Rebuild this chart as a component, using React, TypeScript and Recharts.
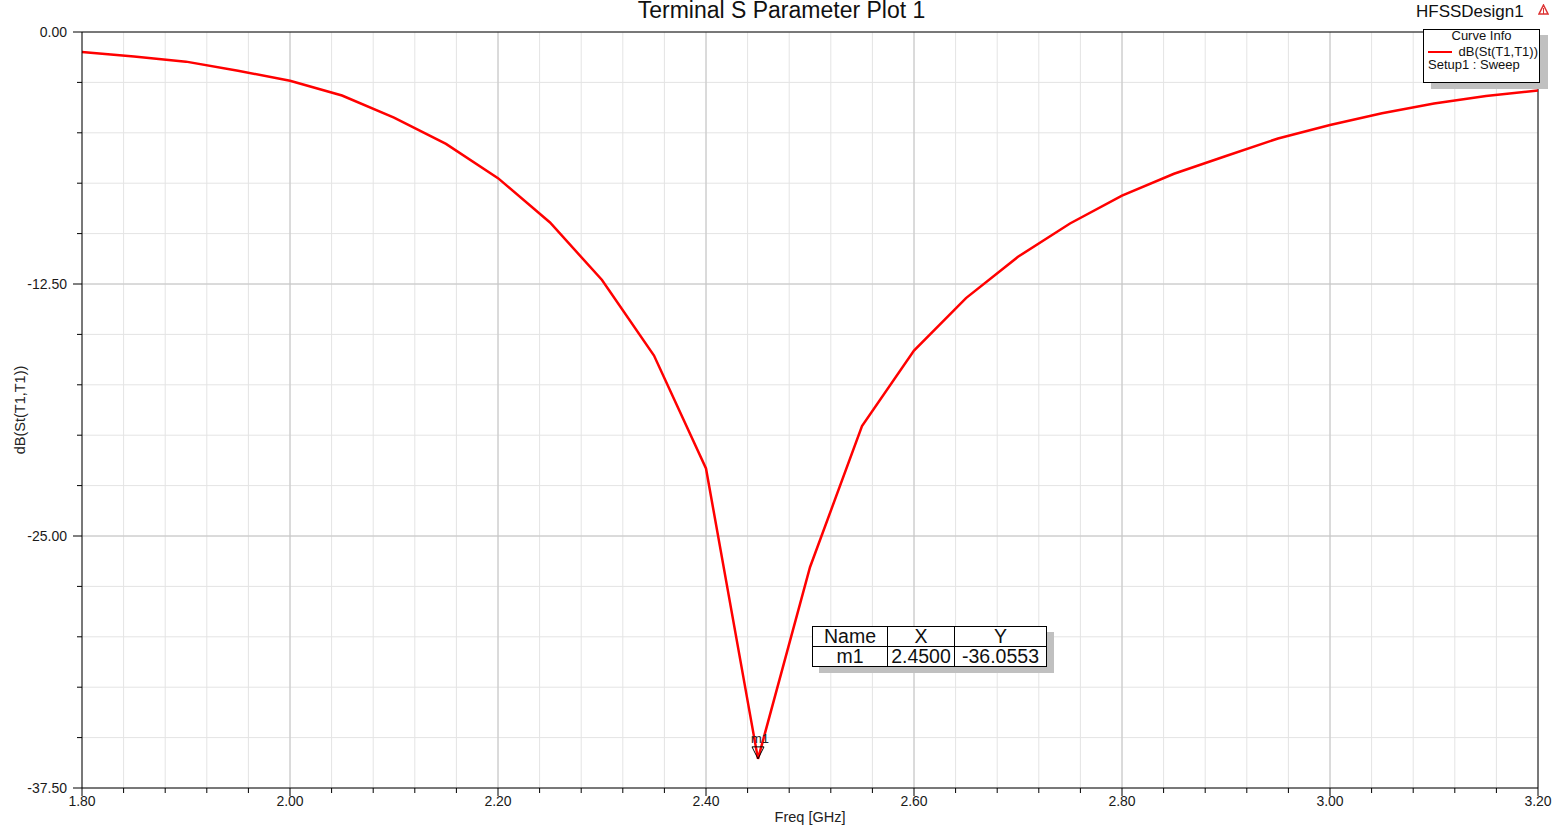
import React from "react";
import { LineChart, Line, XAxis, YAxis, CartesianGrid, ReferenceLine, ReferenceDot } from "recharts";

// sweep points (GHz) and return loss (dB)
const freqGHz = [
  1.8, 1.85, 1.9, 1.95, 2.0, 2.05, 2.1, 2.15, 2.2, 2.25, 2.3, 2.35, 2.4, 2.45, 2.5,
  2.55, 2.6, 2.65, 2.7, 2.75, 2.8, 2.85, 2.9, 2.95, 3.0, 3.05, 3.1, 3.15, 3.2,
];
const s11dB = [
  -0.99, -1.22, -1.47, -1.92, -2.42, -3.15, -4.25, -5.55, -7.25, -9.45, -12.3, -16.05, -21.65, -36.0553, -26.55,
  -19.55, -15.8, -13.2, -11.15, -9.5, -8.12, -7.03, -6.15, -5.28, -4.61, -4.03, -3.55, -3.18, -2.9,
];

const xTicks = [
  1.8, 1.84, 1.88, 1.92, 1.96, 2.0, 2.04, 2.08, 2.12, 2.16, 2.2, 2.24, 2.28, 2.32, 2.36, 2.4, 2.44, 2.48,
  2.52, 2.56, 2.6, 2.64, 2.68, 2.72, 2.76, 2.8, 2.84, 2.88, 2.92, 2.96, 3.0, 3.04, 3.08, 3.12, 3.16, 3.2,
];
const xMajor = [1.8, 2.0, 2.2, 2.4, 2.6, 2.8, 3.0, 3.2];
const yTicks = [0, -2.5, -5, -7.5, -10, -12.5, -15, -17.5, -20, -22.5, -25, -27.5, -30, -32.5, -35, -37.5];
const yMajor = [0, -12.5, -25, -37.5];

const markerName = "m1";
const markerX = 2.45;
const markerY = -36.0553;

const data = freqGHz.map((f, i) => ({ f, db: s11dB[i] }));

const FONT = '"Liberation Sans", Arial, sans-serif';
const isMajor = (list: number[], v: number) => list.some((m) => Math.abs(m - v) < 1e-6);

const YTick = (props: any) => {
  const { x, y, payload } = props;
  const major = isMajor(yMajor, payload.value);
  const ax = x + 15;
  return (
    <g>
      <line x1={ax - (major ? 9 : 5)} x2={ax} y1={y} y2={y} stroke="#000" />
      {major && (
        <text x={x} y={y} dy="0.36em" textAnchor="end" fontSize={14} fill="#1a1a1a" fontFamily={FONT}>
          {payload.value.toFixed(2)}
        </text>
      )}
    </g>
  );
};

const XTick = (props: any) => {
  const { x, y, payload } = props;
  const major = isMajor(xMajor, payload.value);
  const ay = y - 8;
  return (
    <g>
      <line x1={x} x2={x} y1={ay} y2={ay + (major ? 8 : 5)} stroke="#000" />
      {major && (
        <text x={x} y={y} dy="0.72em" textAnchor="middle" fontSize={14} fill="#1a1a1a" fontFamily={FONT}>
          {payload.value.toFixed(2)}
        </text>
      )}
    </g>
  );
};

const MarkerShape = (props: any) => {
  const { cx, cy } = props;
  return (
    <g>
      <polygon points={`${cx - 6},${cy - 12} ${cx + 6},${cy - 12} ${cx},${cy}`} fill="none" stroke="#000" strokeWidth={1} />
      <text x={cx + 2} y={cy - 16} textAnchor="middle" fontSize={13} fill="#222" fontFamily={FONT}>
        {markerName}
      </text>
    </g>
  );
};

const cell: React.CSSProperties = { border: "1px solid #000", padding: 0, textAlign: "center", height: 19, lineHeight: "19px" };

export default function App() {
  return (
    <div style={{ position: "absolute", left: 0, top: 0, width: 1565, height: 831, background: "#fff", fontFamily: FONT, color: "#111" }}>
      <div style={{ position: "absolute", left: 0, top: -3, width: 1563, textAlign: "center", fontSize: 23 }}>
        Terminal S Parameter Plot 1
      </div>
      <div style={{ position: "absolute", left: 1416, top: 2, fontSize: 17 }}>HFSSDesign1</div>
      <svg style={{ position: "absolute", left: 1538, top: 4 }} width={11} height={11}>
        <polygon points="5.5,1 10,10 1,10" fill="none" stroke="#d33" strokeWidth={1.5} />
        <line x1={5.5} y1={4} x2={5.5} y2={10} stroke="#d33" />
      </svg>

      <div style={{ position: "absolute", left: 0, top: 0 }}>
        <LineChart width={1565} height={831} data={data} margin={{ top: 32, right: 27, left: 0, bottom: 0 }}>
          <CartesianGrid stroke="#e4e4e4" />
          {xMajor.slice(1, -1).map((v) => (
            <ReferenceLine key={`xm${v}`} x={v} stroke="#c4c4c4" />
          ))}
          {yMajor.slice(1, -1).map((v) => (
            <ReferenceLine key={`ym${v}`} y={v} stroke="#c4c4c4" />
          ))}
          <ReferenceLine y={0} stroke="#000" />
          <ReferenceLine x={3.2} stroke="#000" />
          <XAxis
            dataKey="f"
            type="number"
            domain={[1.8, 3.2]}
            ticks={xTicks}
            interval={0}
            height={43}
            tickSize={8}
            tickMargin={0}
            tickLine={false}
            axisLine={{ stroke: "#000" }}
            tick={<XTick />}
            label={{ value: "Freq [GHz]", position: "insideBottom", offset: 9, fontSize: 14.5, fill: "#222", fontFamily: FONT }}
          />
          <YAxis
            type="number"
            domain={[-37.5, 0]}
            ticks={yTicks}
            interval={0}
            width={82}
            tickSize={9}
            tickMargin={6}
            tickLine={false}
            axisLine={{ stroke: "#000" }}
            tick={<YTick />}
            allowDataOverflow
            label={{
              value: "dB(St(T1,T1))",
              angle: -90,
              position: "insideLeft",
              offset: 20,
              fontSize: 14.5,
              fill: "#222",
              fontFamily: FONT,
              style: { textAnchor: "middle" },
            }}
          />
          <Line type="linear" dataKey="db" stroke="#ff0000" strokeWidth={2.5} dot={false} isAnimationActive={false} />
          <ReferenceDot x={markerX} y={markerY} shape={<MarkerShape />} />
        </LineChart>
      </div>

      {/* curve info box */}
      <div
        style={{
          position: "absolute",
          left: 1423,
          top: 29,
          width: 115,
          height: 52,
          border: "1px solid #000",
          background: "#fff",
          boxShadow: "8px 6px 0 #c0c0c0",
          fontSize: 13,
          lineHeight: "13px",
        }}
      >
        <div style={{ textAlign: "center", marginTop: -1 }}>Curve Info</div>
        <div style={{ position: "relative", height: 13, marginTop: 3 }}>
          <div style={{ position: "absolute", left: 4, top: 6, width: 24, height: 2, background: "#ff0000" }} />
          <div style={{ position: "absolute", right: 1, top: 0 }}>dB(St(T1,T1))</div>
        </div>
        <div style={{ marginLeft: 4 }}>Setup1 : Sweep</div>
      </div>

      {/* marker table */}
      <table
        style={{
          position: "absolute",
          left: 812,
          top: 626,
          borderCollapse: "collapse",
          background: "#fff",
          boxShadow: "7px 6px 0 #c0c0c0",
          fontSize: 19.5,
          fontFamily: FONT,
          color: "#111",
        }}
      >
        <tbody>
          <tr>
            <td style={{ ...cell, width: 74 }}>Name</td>
            <td style={{ ...cell, width: 66 }}>X</td>
            <td style={{ ...cell, width: 91 }}>Y</td>
          </tr>
          <tr>
            <td style={cell}>{markerName}</td>
            <td style={cell}>{markerX.toFixed(4)}</td>
            <td style={cell}>{markerY.toFixed(4)}</td>
          </tr>
        </tbody>
      </table>
    </div>
  );
}
